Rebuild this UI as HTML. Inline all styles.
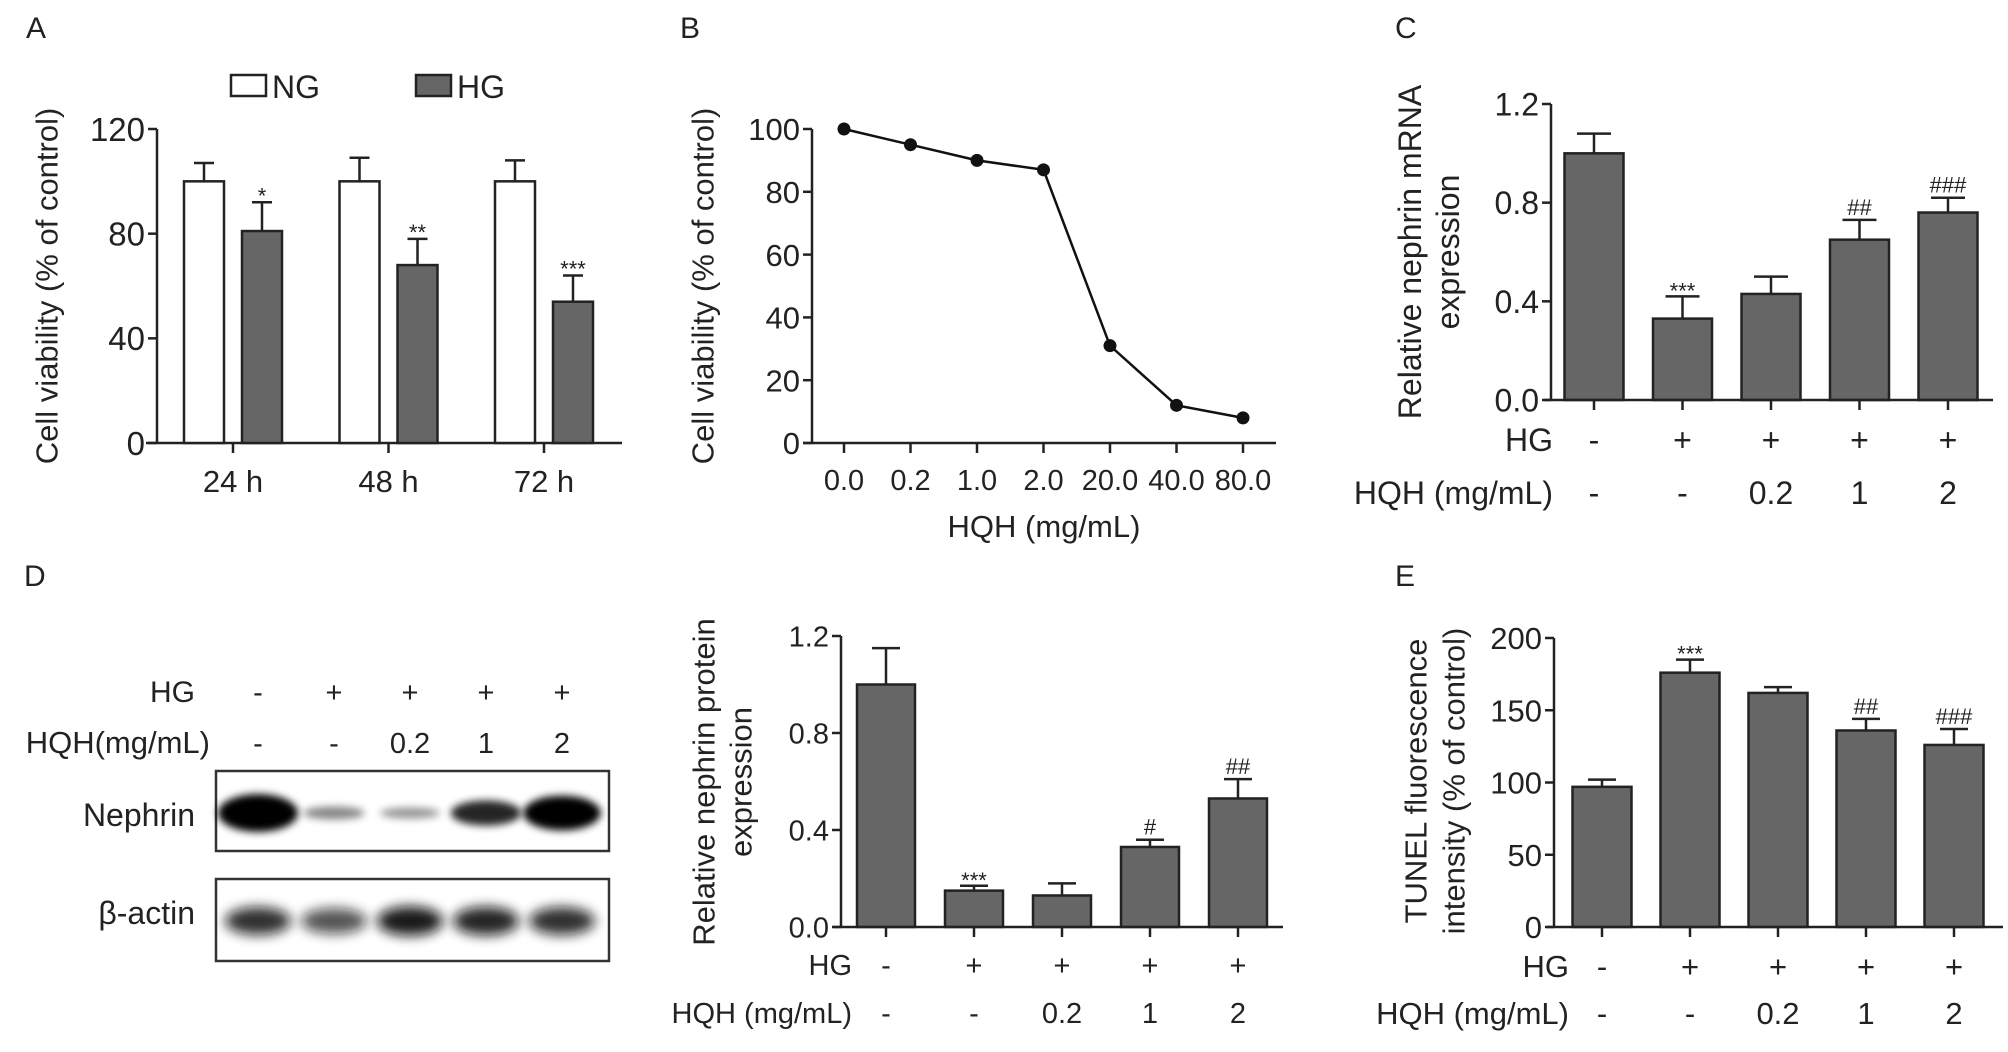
<!DOCTYPE html>
<html><head><meta charset="utf-8">
<style>
html,body{margin:0;padding:0;background:#fff;}
svg{display:block;}
text{font-family:"Liberation Sans",Arial,sans-serif;fill:#222;}
</style></head>
<body>
<svg id="fig" xmlns="http://www.w3.org/2000/svg" width="2008" height="1052" viewBox="0 0 2008 1052">
<defs>
<filter id="blur" x="-30%" y="-80%" width="160%" height="260%"><feGaussianBlur stdDeviation="4"/></filter>
<filter id="blur2" x="-30%" y="-80%" width="160%" height="260%"><feGaussianBlur stdDeviation="6"/></filter>
</defs>
<text x="26" y="38" font-size="30">A</text>
<text x="680" y="38" font-size="30">B</text>
<text x="1395" y="38" font-size="30">C</text>
<text x="24" y="586" font-size="30">D</text>
<text x="1395" y="586" font-size="30">E</text>
<g>
<rect x="231" y="75" width="35" height="21" fill="#fff" stroke="#222" stroke-width="2.5"/>
<text x="272" y="98" font-size="32">NG</text>
<rect x="416" y="75" width="35" height="21" fill="#666" stroke="#222" stroke-width="2.5"/>
<text x="457" y="98" font-size="32">HG</text>
</g>
<g>
<text x="195" y="702" font-size="30" text-anchor="end">HG</text>
<text x="210" y="753" font-size="31" text-anchor="end">HQH(mg/mL)</text>
<text x="195" y="826" font-size="32" text-anchor="end">Nephrin</text>
<text x="195" y="924" font-size="32" text-anchor="end">β-actin</text>
<rect x="216" y="771" width="393" height="80" fill="#fff" stroke="#333" stroke-width="2.5"/>
<rect x="216" y="879" width="393" height="82" fill="#fff" stroke="#333" stroke-width="2.5"/>
<g id="bands"></g>
</g>
<g id="charts"></g>
</svg>
<script>
// Panel A data
const aCategories = ['24 h', '48 h', '72 h'];
const aNG = [100, 100, 100];
const aNGErr = [107, 109, 108];
const aHG = [81, 68, 54];
const aHGErr = [92, 78, 64];
const aStars = ['*', '**', '***'];
const aTicks = [0, 40, 80, 120];
// Panel B data
const bLabels = ['0.0', '0.2', '1.0', '2.0', '20.0', '40.0', '80.0'];
const bValues = [100, 95, 90, 87, 31, 12, 8];
const bTicks = [0, 20, 40, 60, 80, 100];
// shared group labels
const groupHG = ['-', '+', '+', '+', '+'];
const groupHQH = ['-', '-', '0.2', '1', '2'];
// Panel C data
const cValues = [1.0, 0.33, 0.43, 0.65, 0.76];
const cErr = [1.08, 0.42, 0.50, 0.73, 0.82];
const cMarks = ['', '***', '', '##', '###'];
const cTicks = [0, 0.4, 0.8, 1.2];
// Panel D data
const dValues = [1.0, 0.15, 0.13, 0.33, 0.53];
const dErr = [1.15, 0.17, 0.18, 0.36, 0.61];
const dMarks = ['', '***', '', '#', '##'];
const dTicks = [0, 0.4, 0.8, 1.2];
// Panel E data
const eValues = [97, 176, 162, 136, 126];
const eErr = [102, 185, 166, 144, 137];
const eMarks = ['', '***', '', '##', '###'];
const eTicks = [0, 50, 100, 150, 200];
// Blot band intensities
const nephrinBand = [1.0, 0.22, 0.16, 0.6, 0.9];
const actinBand = [0.85, 0.7, 0.95, 0.9, 0.85];

const NS = 'http://www.w3.org/2000/svg';
const root = document.getElementById('charts');
function mk(tag, attrs, parent) {
  const el = document.createElementNS(NS, tag);
  for (const k in attrs) el.setAttribute(k, attrs[k]);
  (parent || root).appendChild(el);
  return el;
}
function txt(x, y, s, size, anchor, parent) {
  const t = mk('text', {x: x, y: y, 'font-size': size, 'text-anchor': anchor || 'middle'}, parent);
  t.textContent = s;
  return t;
}
function yScale(y0, yTop, max) { return v => y0 - v / max * (y0 - yTop); }
function fmt(v, dec) { return dec ? v.toFixed(dec) : String(v); }

function yAxis(g, x, y0, yTop, sc, ticks, dec, fs) {
  const ax = mk('line', {x1: x, y1: y0, x2: x, y2: yTop, stroke: '#222', 'stroke-width': 2.5}, g);
  
  
  ticks.forEach(t => {
    const tk = mk('line', {x1: x - 9, y1: sc(t), x2: x, y2: sc(t), stroke: '#222', 'stroke-width': 2.5}, g);
    
    
    const lb = txt(x - 12, sc(t) + fs * 0.36, fmt(t, dec), fs, 'end', g);
    
    
  });
}
function xAxis(g, x1, x2, y0, centers) {
  const ax = mk('line', {x1: x1, y1: y0, x2: x2, y2: y0, stroke: '#222', 'stroke-width': 2.5}, g);
  
  
  centers.forEach(c => {
    const tk = mk('line', {x1: c, y1: y0, x2: c, y2: y0 + 10, stroke: '#222', 'stroke-width': 2.5}, g);
    
    
  });
}
function bar(g, cx, w, y0, sc, v, err, fill, capW) {
  const e = mk('path', {d: 'M' + cx + ' ' + sc(v) + 'V' + sc(err) + 'M' + (cx - capW / 2) + ' ' + sc(err) + 'H' + (cx + capW / 2), stroke: '#222', 'stroke-width': 2.5, fill: 'none'}, g);
  
  
  const r = mk('rect', {x: cx - w / 2, y: sc(v), width: w, height: y0 - sc(v), fill: fill, stroke: '#222', 'stroke-width': 2.5}, g);
  
  
}
function yTitle(g, lines, cx, cy, fs) {
  lines.forEach((s, i) => {
    const x = cx[i];
    const t = mk('text', {x: x, y: cy, 'font-size': fs, 'text-anchor': 'middle', 'dominant-baseline': 'central', transform: 'rotate(-90 ' + x + ' ' + cy + ')'}, g);
    t.textContent = s;
    
    
  });
}
function groupRows(g, centers, hgY, hqhY, labelX, fs) {
  const l1 = txt(labelX, hgY, 'HG', fs, 'end', g);
  
  
  const l2 = txt(labelX, hqhY, 'HQH (mg/mL)', fs, 'end', g);
  
  
  centers.forEach((c, i) => {
    const a = txt(c, hgY, groupHG[i], fs, 'middle', g);
    
    
    const b = txt(c, hqhY, groupHQH[i], fs, 'middle', g);
    
    
  });
}
function marks(g, centers, sc, errs, ms) {
  ms.forEach((m, i) => {
    if (!m) return;
    const star = m[0] === '*';
    const t = txt(centers[i], sc(errs[i]) - (star ? -2 : 5), m, 22, 'middle', g);
    
    
  });
}

// ---------- Panel A ----------
(function () {
  const g = mk('g', {});
  
  
  const y0 = 443, sc = yScale(y0, 129, 120);
  const centers = aCategories.map((_, i) => 233 + i * 155.5);
  xAxis(g, 146, 622, y0, centers);
  yAxis(g, 157, y0, 129, sc, aTicks, 0, 33);
  centers.forEach((c, i) => {
    bar(g, c - 29, 40, y0, sc, aNG[i], aNGErr[i], '#fff', 20);
    bar(g, c + 29, 40, y0, sc, aHG[i], aHGErr[i], '#666', 20);
    const s = txt(c + 29, sc(aHGErr[i]) + 1, aStars[i], 22, 'middle', g);
    
    
    const l = txt(c, 492, aCategories[i], 31, 'middle', g);
    
    
  });
  yTitle(g, ['Cell viability (% of control)'], [47], 286, 31);
})();

// ---------- Panel B ----------
(function () {
  const g = mk('g', {});
  
  
  const y0 = 443, sc = yScale(y0, 129, 100);
  const xs = bLabels.map((_, i) => 844 + i * 66.5);
  xAxis(g, 803, 1276, y0, xs);
  yAxis(g, 812, y0, 129, sc, bTicks, 0, 31);
  const pts = bValues.map((v, i) => xs[i] + ',' + sc(v)).join(' ');
  const line = mk('polyline', {points: pts, fill: 'none', stroke: '#111', 'stroke-width': 2.5}, g);
  
  
  bValues.forEach((v, i) => {
    const c = mk('circle', {cx: xs[i], cy: sc(v), r: 6.5, fill: '#111'}, g);
    
    
    const l = txt(xs[i], 490, bLabels[i], 29, 'middle', g);
    
    
  });
  const xt = txt(1044, 537, 'HQH (mg/mL)', 31, 'middle', g);
  
  
  yTitle(g, ['Cell viability (% of control)'], [703], 286, 31);
})();

// ---------- Panel C ----------
(function () {
  const g = mk('g', {});
  
  
  const y0 = 400, sc = yScale(y0, 104, 1.2);
  const centers = cValues.map((_, i) => 1594 + i * 88.5);
  cValues.forEach((v, i) => bar(g, centers[i], 59, y0, sc, v, cErr[i], '#666', 34));
  xAxis(g, 1544, 1993, y0, centers);
  yAxis(g, 1551, y0, 104, sc, cTicks, 1, 32);
  marks(g, centers, sc, cErr, cMarks);
  groupRows(g, centers, 451, 504, 1553, 32);
  yTitle(g, ['Relative nephrin mRNA', 'expression'], [1410, 1448], 252, 32);
})();

// ---------- Panel D chart ----------
(function () {
  const g = mk('g', {});
  
  
  const y0 = 927, sc = yScale(y0, 636, 1.2);
  const centers = dValues.map((_, i) => 886 + i * 88);
  dValues.forEach((v, i) => bar(g, centers[i], 58, y0, sc, v, dErr[i], '#666', 28));
  xAxis(g, 833, 1283, y0, centers);
  yAxis(g, 841, y0, 636, sc, dTicks, 1, 29);
  marks(g, centers, sc, dErr, dMarks);
  groupRows(g, centers, 975, 1023, 852, 29);
  yTitle(g, ['Relative nephrin protein', 'expression'], [704, 741], 782, 31);
})();

// ---------- Panel E ----------
(function () {
  const g = mk('g', {});
  
  
  const y0 = 927, sc = yScale(y0, 638, 200);
  const centers = eValues.map((_, i) => 1602 + i * 88);
  eValues.forEach((v, i) => bar(g, centers[i], 59, y0, sc, v, eErr[i], '#666', 28));
  xAxis(g, 1547, 2003, y0, centers);
  yAxis(g, 1554, y0, 638, sc, eTicks, 0, 31);
  marks(g, centers, sc, eErr, eMarks);
  groupRows(g, centers, 977, 1024, 1569, 31);
  yTitle(g, ['TUNEL fluorescence', 'intensity (% of control)'], [1416, 1454], 781, 31);
})();

// ---------- Western blot ----------
(function () {
  const g = document.getElementById('bands');
  const lanes = nephrinBand.map((_, i) => 258 + i * 76);
  const hgL = mk('g', {}, g);
  lanes.forEach((c, i) => {
    const a = txt(c, 702, groupHG[i], 29, 'middle', hgL);
    
    
    const b = txt(c, 753, groupHQH[i], 29, 'middle', hgL);
    
    
    const n = nephrinBand[i];
    const e1 = mk('ellipse', {cx: c, cy: 813, rx: 28 + n * 12, ry: 3 + n * 16, fill: '#000', opacity: Math.min(1, 0.25 + n), filter: 'url(#blur)'}, g);
    
    
    const a2 = actinBand[i];
    const e2 = mk('ellipse', {cx: c, cy: 921, rx: 33, ry: 8 + a2 * 7, fill: '#111', opacity: a2, filter: 'url(#blur2)'}, g);
    
    
  });
})();
</script>
</body></html>
